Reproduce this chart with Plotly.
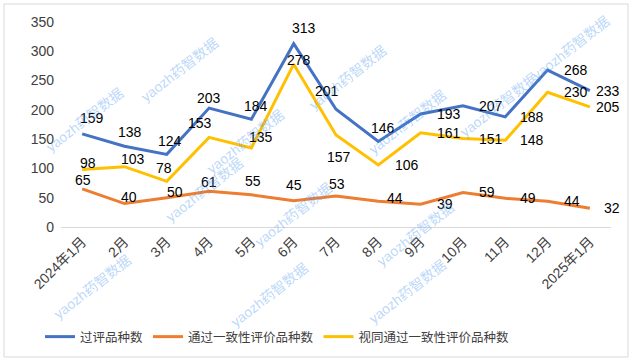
import plotly.graph_objects as go

months = ["2024年1月", "2月", "3月", "4月", "5月", "6月", "7月", "8月", "9月", "10月", "11月", "12月", "2025年1月"]
guoping = [159, 138, 124, 203, 184, 313, 201, 146, 193, 207, 188, 268, 233]
tongguo = [65, 40, 50, 61, 55, 45, 53, 44, 39, 59, 49, 44, 32]
shitong = [98, 103, 78, 153, 135, 278, 157, 106, 161, 151, 148, 230, 205]
names = ["过评品种数", "通过一致性评价品种数", "视同通过一致性评价品种数"]

colors = ["#4472C4", "#ED7D31", "#FFC000"]

# label offsets in pixels (dx right, dy down) relative to each point
off_blue = [(10, -16), (6, -14), (3, -13), (0, -10), (5, -13), (10, -16), (-9, -18),
            (5, -13), (28, 0), (28, 0), (27, 0), (28, 0), (18, 0)]
off_orange = [(1, -9), (5, -7), (8, -6), (0, -9), (2, -14), (0, -16), (1, -12),
              (17, -3), (24, 0), (24, 0), (23, 0), (24, 0), (22, 0)]
off_yellow = [(6, -7), (9, -8), (-3, -13), (-9, -14), (10, -11), (5, -4), (3, 22),
              (29, 0), (28, 0), (28, 0), (27, 0), (28, 0), (18, 0)]

FONT = "Liberation Sans, Noto Sans CJK SC, sans-serif"

fig = go.Figure()
for vals, nm, c in zip([guoping, tongguo, shitong], names, colors):
    fig.add_trace(go.Scatter(x=months, y=vals, name=nm, mode="lines",
                             line=dict(color=c, width=3)))

ann = []
for vals, offs in zip([guoping, tongguo, shitong], [off_blue, off_orange, off_yellow]):
    for m, v, (dx, dy) in zip(months, vals, offs):
        ann.append(dict(x=m, y=v, text=str(v), showarrow=False, xshift=dx, yshift=-dy,
                        font=dict(size=14, color="#000000", family=FONT)))

# plot area pixel geometry
L, R, T, B = 61, 611, 22, 227
def px(x):
    return (x - L) / (R - L)
def py(y):
    return (B - y) / (B - T)

# watermarks
wm = [(135, 32), (40, 120), (245, 142), (160, 228), (347, 40), (452, 160), (543, 67),
      (48, 325), (225, 333), (293, 253), (407, 330), (460, 272), (615, 10)]
for (x, y) in wm:
    ann.append(dict(xref="paper", yref="paper", x=px(x), y=py(y), text="yaozh药智数据",
                    showarrow=False, textangle=-38,
                    font=dict(size=14, color="rgba(80,155,240,0.4)", family=FONT)))

shapes = [dict(type="rect", xref="paper", yref="paper", x0=px(4), x1=px(628), y0=py(357), y1=py(4),
               line=dict(color="#D9D9D9", width=1), fillcolor="rgba(0,0,0,0)", layer="below")]

fig.update_layout(
    width=635, height=363,
    margin=dict(l=L, r=635 - R, t=T, b=363 - B, autoexpand=False),
    paper_bgcolor="white", plot_bgcolor="white",
    font=dict(family=FONT, size=14, color="#404040"),
    showlegend=True,
    legend=dict(orientation="h", x=px(40), xanchor="left", y=py(337), yanchor="middle",
                font=dict(size=12.5, color="#404040"), bgcolor="rgba(0,0,0,0)",
                itemwidth=30, tracegroupgap=0),
    annotations=ann, shapes=shapes,
    xaxis=dict(type="category", range=[-0.5, 12.5], tickangle=-45, showgrid=False,
               showline=True, linecolor="#D9D9D9", linewidth=1, ticks="",
               tickfont=dict(size=14, color="#404040"), automargin=False, zeroline=False),
    yaxis=dict(range=[0, 350], dtick=50, showgrid=False, showline=False, zeroline=False,
               ticks="", ticklabelstandoff=6, tickfont=dict(size=14, color="#404040"),
               automargin=False),
)

fig.write_html("out.html", config={"displayModeBar": False},
               post_script="document.body.style.margin='0';document.body.style.overflow='hidden';")
